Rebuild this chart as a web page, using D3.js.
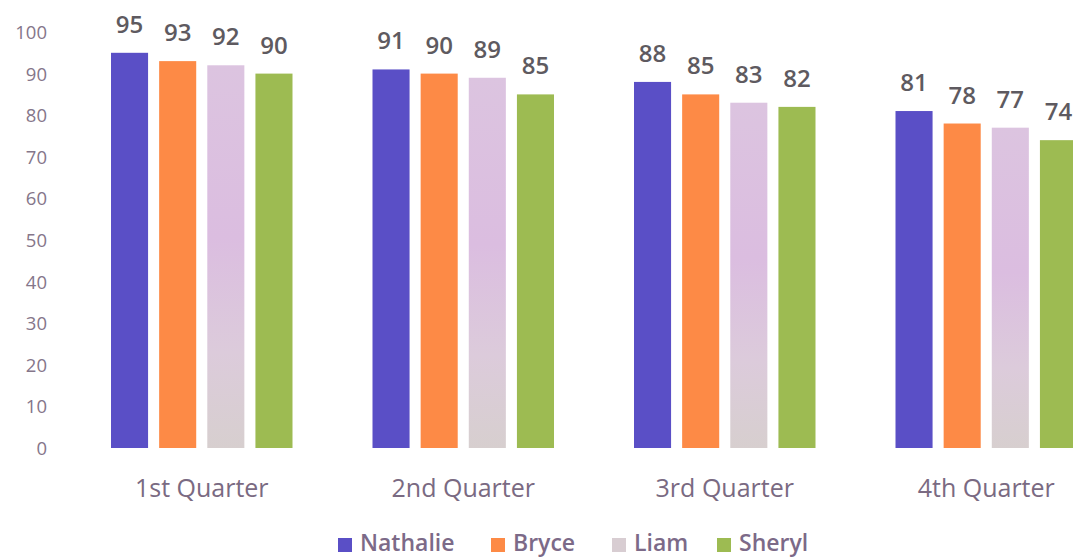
<!DOCTYPE html>
<html><head><meta charset="utf-8">
<script src="https://cdn.jsdelivr.net/npm/d3@7"></script>
<style>html,body{margin:0;padding:0;background:#fff;overflow:hidden}</style>
</head><body><svg id="c" width="1073" height="558"></svg>
<script>
const categories = ["1st Quarter", "2nd Quarter", "3rd Quarter", "4th Quarter"];
const seriesNames = ["Nathalie", "Bryce", "Liam", "Sheryl"];
const nathalie = [95, 91, 88, 81];
const bryce = [93, 90, 85, 78];
const liam = [92, 89, 83, 77];
const sheryl = [90, 85, 82, 74];
const yTicks = [0, 10, 20, 30, 40, 50, 60, 70, 80, 90, 100];
const colors = ["#5a4fc6", "#fd8a46", "url(#liamGrad)", "#9dbb52"];
const legendColors = ["#5a4fc6", "#fd8a46", "#d8cdd2", "#9dbb52"];

const values = [nathalie, bryce, liam, sheryl];
const data = categories.map((c, i) => ({cat: c, vals: seriesNames.map((s, j) => ({s, v: values[j][i], j}))}));

const svg = d3.select("#c");
const font = "'Open Sans', sans-serif";
const defs = svg.append("defs");
const g = defs.append("linearGradient").attr("id", "liamGrad").attr("x1", 0).attr("y1", 0).attr("x2", 0).attr("y2", 1);
g.append("stop").attr("offset", "0%").attr("stop-color", "#dcc4e0");
g.append("stop").attr("offset", "45%").attr("stop-color", "#dbbde0");
g.append("stop").attr("offset", "75%").attr("stop-color", "#dccbdb");
g.append("stop").attr("offset", "100%").attr("stop-color", "#d7cfcf");

const y = d3.scaleLinear().domain([0, 100]).range([448, 32]);
const x0 = d3.scaleBand().domain(categories).range([71, 1117]);
const x1 = d3.scaleBand().domain(seriesNames).range([40, 221.5]).paddingInner(0.23);

// y axis labels
const yAxis = d3.axisLeft(y).tickValues(yTicks).tickSize(0).tickPadding(0);
const ya = svg.append("g").attr("transform", "translate(47,0)").call(yAxis);
ya.select(".domain").remove();
ya.selectAll("text").attr("font-family", font).attr("font-size", 18.5).attr("fill", "#85768a").attr("dy", "0.35em");

const groups = svg.append("g").selectAll("g").data(data).join("g")
  .attr("transform", d => `translate(${x0(d.cat)},0)`);
groups.selectAll("rect").data(d => d.vals).join("rect")
  .attr("x", d => x1(d.s)).attr("width", x1.bandwidth())
  .attr("y", d => y(d.v)).attr("height", d => y(0) - y(d.v))
  .attr("fill", d => colors[d.j]);
groups.selectAll("text").data(d => d.vals).join("text")
  .attr("x", d => x1(d.s) + x1.bandwidth() / 2)
  .attr("y", d => y(d.v) - 20)
  .attr("text-anchor", "middle")
  .attr("font-family", font).attr("font-size", 24).attr("font-weight", 600)
  .attr("fill", "#5e5a60").text(d => d.v);

// x axis labels
const xAxis = d3.axisBottom(x0).tickSize(0).tickPadding(0);
const xa = svg.append("g").attr("transform", "translate(0,488)").call(xAxis);
xa.select(".domain").remove();
xa.selectAll("text").attr("font-family", font).attr("font-size", 25).attr("font-weight", 500).attr("fill", "#7a6a82").attr("dy", "0.35em");

// legend
const legendX = [338, 491, 612, 717];
const lg = svg.append("g").selectAll("g").data(seriesNames).join("g")
  .attr("transform", (d, i) => `translate(${legendX[i]},543)`);
lg.append("rect").attr("x", 0).attr("y", -5).attr("width", 14).attr("height", 14).attr("fill", (d, i) => legendColors[i]);
lg.append("text").attr("x", 22).attr("y", 0).attr("dy", "0.35em")
  .attr("font-family", font).attr("font-size", 23).attr("font-weight", 600).attr("fill", "#7c6a88").text(d => d);
</script></body></html>
